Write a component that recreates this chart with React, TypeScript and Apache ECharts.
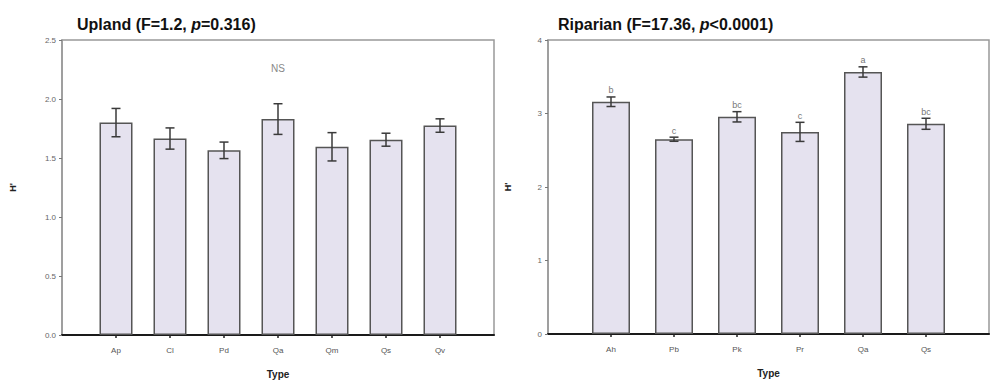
import React, { useEffect, useRef } from "react";
import * as echarts from "echarts";

const uplandTypes = ["Ap", "Cl", "Pd", "Qa", "Qm", "Qs", "Qv"];
const uplandMean = [1.8, 1.665, 1.565, 1.83, 1.595, 1.655, 1.775];
const uplandErr = [0.12, 0.09, 0.07, 0.13, 0.12, 0.055, 0.057];
const uplandTicks = [0, 0.5, 1.0, 1.5, 2.0, 2.5];

const riparianTypes = ["Ah", "Pb", "Pk", "Pr", "Qa", "Qs"];
const riparianMean = [3.16, 2.65, 2.955, 2.75, 3.565, 2.86];
const riparianErr = [0.065, 0.028, 0.07, 0.13, 0.07, 0.075];
const riparianLetters = ["b", "c", "bc", "c", "a", "bc"];
const riparianTicks = [0, 1, 2, 3, 4];

const FONT = "Liberation Sans, Arial, sans-serif";

function padded<T>(arr: T[], blank: T): T[] {
  return [blank, ...arr, blank];
}

function errorSeries(
  xi: number,
  yi: number,
  means: number[],
  errs: number[],
  letters: string[] | null,
  cap: number
) {
  return {
    type: "custom",
    xAxisIndex: xi,
    yAxisIndex: yi,
    z: 5,
    data: means.map((m, i) => [i + 1, m, errs[i]]),
    renderItem: (params: any, api: any) => {
      const x = api.value(0);
      const m = api.value(1);
      const e = api.value(2);
      const top = api.coord([x, m + e]);
      const bot = api.coord([x, m - e]);
      const st = { stroke: "#3a3a3a", lineWidth: 1.5 };
      const children: any[] = [
        { type: "line", shape: { x1: top[0], y1: top[1], x2: bot[0], y2: bot[1] }, style: st },
        { type: "line", shape: { x1: top[0] - cap, y1: top[1], x2: top[0] + cap, y2: top[1] }, style: st },
        { type: "line", shape: { x1: bot[0] - cap, y1: bot[1], x2: bot[0] + cap, y2: bot[1] }, style: st },
      ];
      if (letters) {
        children.push({
          type: "text",
          x: top[0],
          y: top[1] - 2,
          style: {
            text: letters[params.dataIndex],
            fill: "#777",
            font: `9px ${FONT}`,
            textAlign: "center",
            textVerticalAlign: "bottom",
          },
        });
      }
      return { type: "group", children };
    },
  };
}

export default function App() {
  const ref = useRef<HTMLDivElement>(null);
  useEffect(() => {
    if (!ref.current) return;
    const chart = echarts.init(ref.current, null, { renderer: "svg" });

    const xAxisBase = (types: string[]) => ({
      type: "category",
      data: padded(types, ""),
      boundaryGap: false,
      name: "Type",
      nameLocation: "middle",
      nameGap: 34,
      nameTextStyle: { fontFamily: FONT, fontWeight: "bold", fontSize: 10, color: "#222" },
      axisLine: { show: true, lineStyle: { color: "#1a1a1a", width: 2 } },
      axisTick: {
        show: true,
        length: 3,
        lineStyle: { color: "#222", width: 1.5 },
        interval: (idx: number) => idx !== 0 && idx !== types.length + 1,
      },
      axisLabel: { fontFamily: FONT, fontSize: 8, color: "#555", margin: 11, interval: 0 },
      splitLine: { show: false },
    });

    const yAxisBase = (max: number, interval: number, gap: number, digits: number) => ({
      type: "value",
      min: 0,
      max,
      interval,
      name: "H'",
      nameLocation: "middle",
      nameGap: gap,
      nameTextStyle: { fontFamily: FONT, fontWeight: "bold", fontSize: 9, color: "#222" },
      axisLine: { show: true, lineStyle: { color: "#999", width: 1.5 } },
      axisTick: { show: true, length: 3, lineStyle: { color: "#777" } },
      axisLabel: {
        fontFamily: FONT,
        fontSize: 8,
        color: "#666",
        margin: 6,
        formatter: (v: number) => v.toFixed(digits),
      },
      splitLine: { show: false },
    });

    const barStyle = { color: "#e5e2ef", borderColor: "#555", borderWidth: 1.5 };

    chart.setOption({
      animation: false,
      backgroundColor: "#fff",
      title: [
        {
          left: 72,
          top: 11,
          text: "{b|Upland (F=1.2, }{i|p}{b|=0.316)}",
          textStyle: {
            rich: {
              b: { fontFamily: FONT, fontWeight: "bold", fontSize: 16, color: "#111" },
              i: { fontFamily: FONT, fontWeight: "bold", fontStyle: "italic", fontSize: 16, color: "#111" },
            },
          },
        },
        {
          left: 553,
          top: 11,
          text: "{b|Riparian (F=17.36, }{i|p}{b|<0.0001)}",
          textStyle: {
            rich: {
              b: { fontFamily: FONT, fontWeight: "bold", fontSize: 16, color: "#111" },
              i: { fontFamily: FONT, fontWeight: "bold", fontStyle: "italic", fontSize: 16, color: "#111" },
            },
          },
        },
      ],
      grid: [
        {
          left: 62, right: 496, top: 40, bottom: 45,
          show: true, borderColor: "#999", borderWidth: 1.5,
          outerBoundsMode: "none", containLabel: false,
        },
        {
          left: 548, right: 1, top: 40, bottom: 46,
          show: true, borderColor: "#999", borderWidth: 1.5,
          outerBoundsMode: "none", containLabel: false,
        },
      ],
      xAxis: [
        { ...xAxisBase(uplandTypes), gridIndex: 0 },
        { ...xAxisBase(riparianTypes), gridIndex: 1 },
      ],
      yAxis: [
        { ...yAxisBase(uplandTicks[uplandTicks.length - 1], 0.5, 45, 1), gridIndex: 0 },
        { ...yAxisBase(riparianTicks[riparianTicks.length - 1], 1, 36, 0), gridIndex: 1 },
      ],
      graphic: [
        {
          type: "text",
          x: 278,
          y: 68,
          style: { text: "NS", fill: "#888", font: `10px ${FONT}`, textAlign: "center", textVerticalAlign: "middle" },
        },
      ],
      series: [
        {
          type: "bar",
          xAxisIndex: 0,
          yAxisIndex: 0,
          data: padded<any>(uplandMean, "-"),
          barWidth: 33,
          itemStyle: barStyle,
        },
        errorSeries(0, 0, uplandMean, uplandErr, null, 4.5),
        {
          type: "bar",
          xAxisIndex: 1,
          yAxisIndex: 1,
          data: padded<any>(riparianMean, "-"),
          barWidth: 38,
          itemStyle: barStyle,
        },
        errorSeries(1, 1, riparianMean, riparianErr, riparianLetters, 4.5),
      ],
    });
    return () => chart.dispose();
  }, []);
  return (
    <div
      ref={ref}
      style={{ position: "fixed", left: 0, top: 0, width: 990, height: 380, background: "#fff" }}
    />
  );
}
